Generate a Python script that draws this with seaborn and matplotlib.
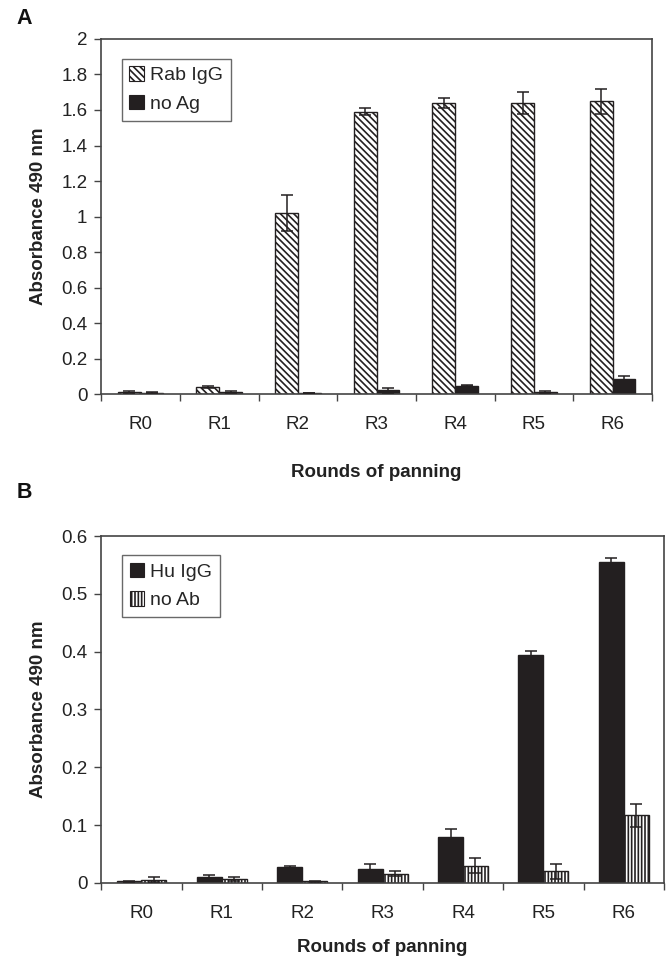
import numpy as np
import pandas as pd
import matplotlib
matplotlib.use("Agg")
import matplotlib.pyplot as plt
import seaborn as sns
from matplotlib.ticker import FuncFormatter, FixedLocator
from matplotlib.patches import Patch

rounds = ["R0", "R1", "R2", "R3", "R4", "R5", "R6"]

# panel A
rab_igg = [0.012, 0.04, 1.02, 1.59, 1.64, 1.64, 1.65]
rab_igg_err = [0.006, 0.006, 0.10, 0.02, 0.03, 0.06, 0.07]
no_ag = [0.008, 0.012, 0.006, 0.02, 0.047, 0.012, 0.085]
no_ag_err = [0.004, 0.004, 0.002, 0.015, 0.004, 0.004, 0.015]

# panel B
hu_igg = [0.003, 0.01, 0.028, 0.025, 0.08, 0.395, 0.555]
hu_igg_err = [0.001, 0.004, 0.002, 0.007, 0.014, 0.006, 0.007]
no_ab = [0.006, 0.007, 0.003, 0.016, 0.03, 0.02, 0.117]
no_ab_err = [0.004, 0.004, 0.001, 0.004, 0.013, 0.013, 0.02]

sns.set_theme(style="white")
plt.rcParams["font.family"] = ["Liberation Sans", "DejaVu Sans"]
plt.rcParams["hatch.linewidth"] = 1.2
plt.rcParams["hatch.color"] = "#231f20"

DARK = "#231f20"
SPINE = "#444444"
TXT = "#222222"


def draw_panel(ax, names, values, errors, styles, ylim, ystep, width, xpad):
    df = pd.DataFrame({
        "round": rounds * 2,
        "series": [names[0]] * len(rounds) + [names[1]] * len(rounds),
        "value": list(values[0]) + list(values[1]),
    })
    sns.barplot(data=df, x="round", y="value", hue="series", order=rounds,
                hue_order=names, width=width, errorbar=None, legend=False,
                palette=["white", "white"], edgecolor=DARK, linewidth=1.0,
                gap=0, ax=ax)

    handles = []
    for cont, (fill, hatch), err, name in zip(ax.containers, styles, errors, names):
        xs, ys = [], []
        for bar in cont:
            bar.set_facecolor(fill)
            bar.set_hatch(hatch)
            xs.append(bar.get_x() + bar.get_width() / 2)
            ys.append(bar.get_height())
        ax.errorbar(xs, ys, yerr=err, fmt="none", ecolor=DARK,
                    elinewidth=1.1, capsize=4, capthick=1.1, zorder=5)
        handles.append(Patch(facecolor=fill, edgecolor=DARK, hatch=hatch,
                             linewidth=0.8, label=name))

    ax.set_xlim(-0.5, len(rounds) - 0.5)
    ax.set_ylim(*ylim)
    ax.yaxis.set_major_locator(FixedLocator(np.arange(ylim[0], ylim[1] + ystep / 2, ystep)))
    ax.yaxis.set_major_formatter(FuncFormatter(lambda v, p: f"{v:g}"))

    # category labels in the middle, tick marks between categories (Excel style)
    ax.set_xticks(range(len(rounds)))
    ax.set_xticklabels(rounds)
    ax.set_xticks(np.arange(-0.5, len(rounds)), minor=True)
    ax.tick_params(axis="x", which="major", length=0, pad=16, labelsize=13.5, colors=TXT)
    ax.tick_params(axis="x", which="minor", length=5, width=1, direction="out",
                   color=SPINE, bottom=True)
    ax.tick_params(axis="y", which="major", length=5, width=1, direction="out",
                   color=SPINE, left=True, labelsize=13.5, pad=5, labelcolor=TXT)

    for sp in ax.spines.values():
        sp.set_visible(True)
        sp.set_color(SPINE)
        sp.set_linewidth(1.2)

    ax.set_xlabel("Rounds of panning", fontsize=13.5, fontweight="bold",
                  labelpad=xpad, color=TXT)
    ax.set_ylabel("Absorbance 490 nm", fontsize=13.5, fontweight="bold",
                  labelpad=10, color=TXT)

    leg = ax.legend(handles=handles, loc="upper left", bbox_to_anchor=(0.037, 0.945),
                    fontsize=14, frameon=True, fancybox=False, handlelength=0.75,
                    handleheight=0.75, handletextpad=0.3, borderpad=0.4,
                    labelspacing=0.55, borderaxespad=0)
    leg.get_frame().set_edgecolor(SPINE)
    leg.get_frame().set_linewidth(1.0)


fig = plt.figure(figsize=(6.66, 9.58), dpi=100)
ax_a = fig.add_axes([0.152, 0.5887, 0.827, 0.3706])
ax_b = fig.add_axes([0.152, 0.0783, 0.845, 0.3622])

draw_panel(ax_a, ["Rab IgG", "no Ag"], [rab_igg, no_ag], [rab_igg_err, no_ag_err],
           [("white", "\\\\\\\\\\"), (DARK, "")], (0, 2), 0.2, 0.58, 22)
draw_panel(ax_b, ["Hu IgG", "no Ab"], [hu_igg, no_ab], [hu_igg_err, no_ab_err],
           [(DARK, ""), ("white", "|||||")], (0, 0.6), 0.1, 0.62, 12)

# panel letters
fig.text(24 / 666, 1 - 18 / 958, "A", fontsize=15.5, fontweight="bold",
         ha="center", va="center", color="#111111")
fig.text(24 / 666, 1 - 493 / 958, "B", fontsize=15.5, fontweight="bold",
         ha="center", va="center", color="#111111")

fig.savefig("out.png", dpi=100)
